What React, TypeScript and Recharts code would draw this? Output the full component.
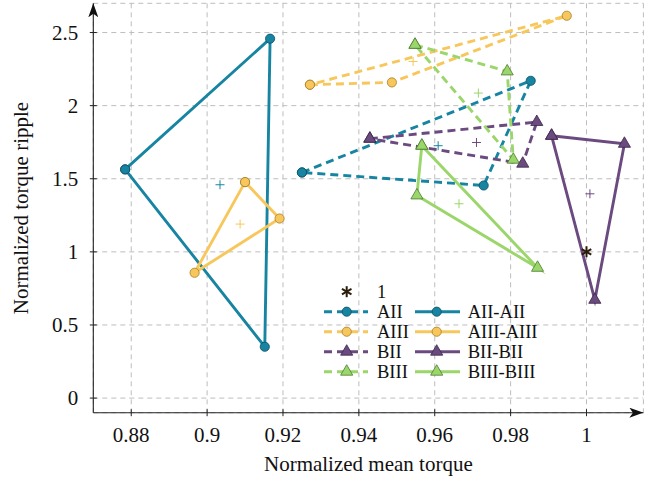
import React from 'react';
import { ScatterChart, Scatter, XAxis, YAxis, CartesianGrid, Legend, Label } from 'recharts';

// ---------- data ----------
const xTicks = [0.88, 0.9, 0.92, 0.94, 0.96, 0.98, 1];
const xTickLabels = ['0.88', '0.9', '0.92', '0.94', '0.96', '0.98', '1'];
const yTicks = [0, 0.5, 1, 1.5, 2, 2.5];
const yTickLabels = ['0', '0.5', '1', '1.5', '2', '2.5'];

const seriesNames = ['AII', 'AIII', 'BII', 'BIII', 'AII-AII', 'AIII-AIII', 'BII-BII', 'BIII-BIII'];

const AII_x = [0.925, 0.9853, 0.9729];
const AII_y = [1.543, 2.17, 1.454];
const AIII_x = [0.9271, 0.9487, 0.9948];
const AIII_y = [2.143, 2.159, 2.615];
const BII_x = [0.9429, 0.9869, 0.9832];
const BII_y = [1.774, 1.888, 1.603];
const BIII_x = [0.9548, 0.9791, 0.9807];
const BIII_y = [2.416, 2.234, 1.63];
const AIIAII_x = [0.8784, 0.9166, 0.9152];
const AIIAII_y = [1.564, 2.458, 0.351];
const AIIIAIII_x = [0.91, 0.9191, 0.8967];
const AIIIAIII_y = [1.477, 1.228, 0.857];
const BIIBII_x = [0.9908, 1.01, 1.0022];
const BIIBII_y = [1.794, 1.739, 0.672];
const BIIIBIII_x = [0.9566, 0.9553, 0.9871];
const BIIIBIII_y = [1.726, 1.386, 0.891];

// mean markers (+), one per series, same order as seriesNames
const meanX = [0.9609, 0.9543, 0.971, 0.9715, 0.9034, 0.9087, 1.0009, 0.9664];
const meanY = [1.726, 2.302, 1.748, 2.086, 1.459, 1.19, 1.397, 1.329];

// reference point "1"
const refX = [1];
const refY = [1];

// ---------- styles ----------
const FONT = '"Liberation Serif", "DejaVu Serif", "Times New Roman", serif';
const TEAL = '#1785a2';
const YELLOW = '#f8c75b';
const PURPLE = '#6b4a80';
const GREEN = '#9ad66a';
const LW = 2.9;
const DASH = '8 5';
const seriesStyle = [
  { color: TEAL, edge: '#0c4c5e', marker: 'circle', dashed: true },
  { color: YELLOW, edge: '#a57d2a', marker: 'circle', dashed: true },
  { color: PURPLE, edge: '#3a2648', marker: 'triangle', dashed: true },
  { color: GREEN, edge: '#4d7b31', marker: 'triangle', dashed: true },
  { color: TEAL, edge: '#0c4c5e', marker: 'circle', dashed: false },
  { color: YELLOW, edge: '#a57d2a', marker: 'circle', dashed: false },
  { color: PURPLE, edge: '#3a2648', marker: 'triangle', dashed: false },
  { color: GREEN, edge: '#4d7b31', marker: 'triangle', dashed: false },
];

const seriesXs = [AII_x, AIII_x, BII_x, BIII_x, AIIAII_x, AIIIAIII_x, BIIBII_x, BIIIBIII_x];
const seriesYs = [AII_y, AIII_y, BII_y, BIII_y, AIIAII_y, AIIIAIII_y, BIIBII_y, BIIIBIII_y];

const closedTriangle = (xs: number[], ys: number[]) => {
  const pts = xs.map((x, i) => ({ x, y: ys[i] }));
  return [...pts, pts[0]];
};

const drawMarker = (kind: string, cx: number, cy: number, fill: string, edge: string) => {
  if (kind === 'circle') {
    return <circle cx={cx} cy={cy} r={4.6} fill={fill} stroke={edge} strokeWidth={0.8} />;
  }
  const r = 7;
  const pts = `${cx},${cy - r} ${cx - r * 0.866},${cy + r / 2} ${cx + r * 0.866},${cy + r / 2}`;
  return <polygon points={pts} fill={fill} stroke={edge} strokeWidth={0.8} strokeLinejoin="miter" />;
};

const drawStar = (cx: number, cy: number, r = 5.5) => (
  <g stroke="#2b1d0a" strokeWidth={2} strokeLinecap="butt">
    <line x1={cx} y1={cy - r} x2={cx} y2={cy + r} />
    <line x1={cx - r * 0.866} y1={cy - r / 2} x2={cx + r * 0.866} y2={cy + r / 2} />
    <line x1={cx - r * 0.866} y1={cy + r / 2} x2={cx + r * 0.866} y2={cy - r / 2} />
  </g>
);

const XTick = (props: any) => {
  const { x, y, payload } = props;
  const i = xTicks.indexOf(payload.value);
  return (
    <g>
      <line x1={x} x2={x} y1={y - 3.5} y2={y + 3.5} stroke="#222" strokeWidth={1} />
      <text x={x} y={y + 29} textAnchor="middle" fontSize={21} fontFamily={FONT} fill="#111">
        {xTickLabels[i]}
      </text>
    </g>
  );
};

const YTick = (props: any) => {
  const { x, y, payload } = props;
  const i = yTicks.indexOf(payload.value);
  return (
    <g>
      <line x1={x - 3.5} x2={x + 3.5} y1={y} y2={y} stroke="#222" strokeWidth={1} />
      <text x={x - 15} y={y + 7} textAnchor="end" fontSize={21} fontFamily={FONT} fill="#111">
        {yTickLabels[i]}
      </text>
    </g>
  );
};

const XLabel = (props: any) => {
  const vb = props.viewBox || {};
  return (
    <text x={vb.x + vb.width / 2} y={vb.y + 58.5} textAnchor="middle" fontSize={21} fontFamily={FONT} fill="#111">
      Normalized mean torque
    </text>
  );
};

const YLabel = (props: any) => {
  const vb = props.viewBox || {};
  const x = vb.x - 5;
  const y = vb.y + vb.height / 2;
  return (
    <text x={x} y={y} transform={`rotate(-90, ${x}, ${y})`} textAnchor="middle" fontSize={21} fontFamily={FONT} fill="#111">
      Normalized torque ripple
    </text>
  );
};

const LegendBox = () => {
  const rowY = [41.7, 61.7, 81.7, 101.7];
  const cols = [
    { x1: 24, x2: 68, m: 46.7, tx: 77 },
    { x1: 115, x2: 160, m: 136.7, tx: 167.7 },
  ];
  const items: any[] = [];
  seriesNames.forEach((name, idx) => {
    const col = cols[idx < 4 ? 0 : 1];
    const y = rowY[idx % 4];
    const st = seriesStyle[idx];
    items.push(
      <g key={name}>
        <line x1={col.x1} x2={col.x2} y1={y} y2={y} stroke={st.color} strokeWidth={LW}
          strokeDasharray={st.dashed ? DASH : undefined} />
        {drawMarker(st.marker, col.m, y, st.color, st.edge)}
        <text x={col.tx} y={y + 6.5} fontSize={18.5} fontFamily={FONT} fill="#111">{name}</text>
      </g>
    );
  });
  return (
    <svg width={260} height={120} style={{ display: 'block', overflow: 'visible' }}>
      {drawStar(46.7, 21.7)}
      <text x={77} y={28} fontSize={18.5} fontFamily={FONT} fill="#111">1</text>
      {items}
    </svg>
  );
};

export default function App() {
  return (
    <div style={{ position: 'absolute', left: 0, top: 0, background: '#fff' }}>
      <ScatterChart width={662} height={483} margin={{ top: 3.3, right: 18.6, left: 33.3, bottom: 30.3 }}>
        <defs>
          <marker id="axisArrow" viewBox="0 0 14 10" refX="14" refY="5" markerWidth="14" markerHeight="10"
            markerUnits="userSpaceOnUse" orient="auto-start-reverse">
            <path d="M0,0 L14,5 L0,10 L3.5,5 Z" fill="#111" />
          </marker>
        </defs>
        <CartesianGrid stroke="#bdbdbd" strokeDasharray="5 4" strokeWidth={1} />
        <XAxis
          type="number"
          dataKey="x"
          domain={[0.87, 1.015]}
          ticks={xTicks}
          interval={0}
          allowDataOverflow
          height={40}
          tickSize={0}
          tickMargin={0}
          tickLine={false}
          tick={<XTick />}
          axisLine={{ stroke: '#222', strokeWidth: 1.1, markerEnd: 'url(#axisArrow)' } as any}
        >
          <Label content={<XLabel />} />
        </XAxis>
        <YAxis
          type="number"
          dataKey="y"
          domain={[-0.1, 2.7]}
          ticks={yTicks}
          interval={0}
          allowDataOverflow
          width={60}
          tickSize={0}
          tickMargin={0}
          tickLine={false}
          tick={<YTick />}
          axisLine={{ stroke: '#222', strokeWidth: 1.1, markerStart: 'url(#axisArrow)' } as any}
        >
          <Label content={<YLabel />} />
        </YAxis>
        <Legend
          layout="horizontal"
          verticalAlign="middle"
          align="center"
          content={<LegendBox />}
          wrapperStyle={{ position: 'absolute', left: 300, top: 270, width: 260, height: 120 }}
        />
        {seriesNames.map((name, idx) => {
          const st = seriesStyle[idx];
          return (
            <Scatter
              key={name}
              name={name}
              data={closedTriangle(seriesXs[idx], seriesYs[idx])}
              fill={st.color}
              line={{
                stroke: st.color,
                strokeWidth: LW,
                strokeDasharray: st.dashed ? DASH : undefined,
                strokeLinejoin: 'miter',
                strokeMiterlimit: 10,
              } as any}
              lineType="joint"
              shape={(p: any) => drawMarker(st.marker, p.cx, p.cy, st.color, st.edge)}
              isAnimationActive={false}
            />
          );
        })}
        {seriesNames.map((name, idx) => {
          const st = seriesStyle[idx];
          return (
            <Scatter
              key={name + '-mean'}
              name={name + ' mean'}
              data={[{ x: meanX[idx], y: meanY[idx] }]}
              fill={st.color}
              shape={(p: any) => (
                <g stroke={st.color} strokeWidth={1}>
                  <line x1={p.cx - 4.5} x2={p.cx + 4.5} y1={p.cy} y2={p.cy} />
                  <line x1={p.cx} x2={p.cx} y1={p.cy - 4.5} y2={p.cy + 4.5} />
                </g>
              )}
              isAnimationActive={false}
            />
          );
        })}
        <Scatter
          name="1"
          data={refX.map((x, i) => ({ x, y: refY[i] }))}
          fill="#2b1d0a"
          shape={(p: any) => drawStar(p.cx, p.cy)}
          isAnimationActive={false}
        />
      </ScatterChart>
    </div>
  );
}
